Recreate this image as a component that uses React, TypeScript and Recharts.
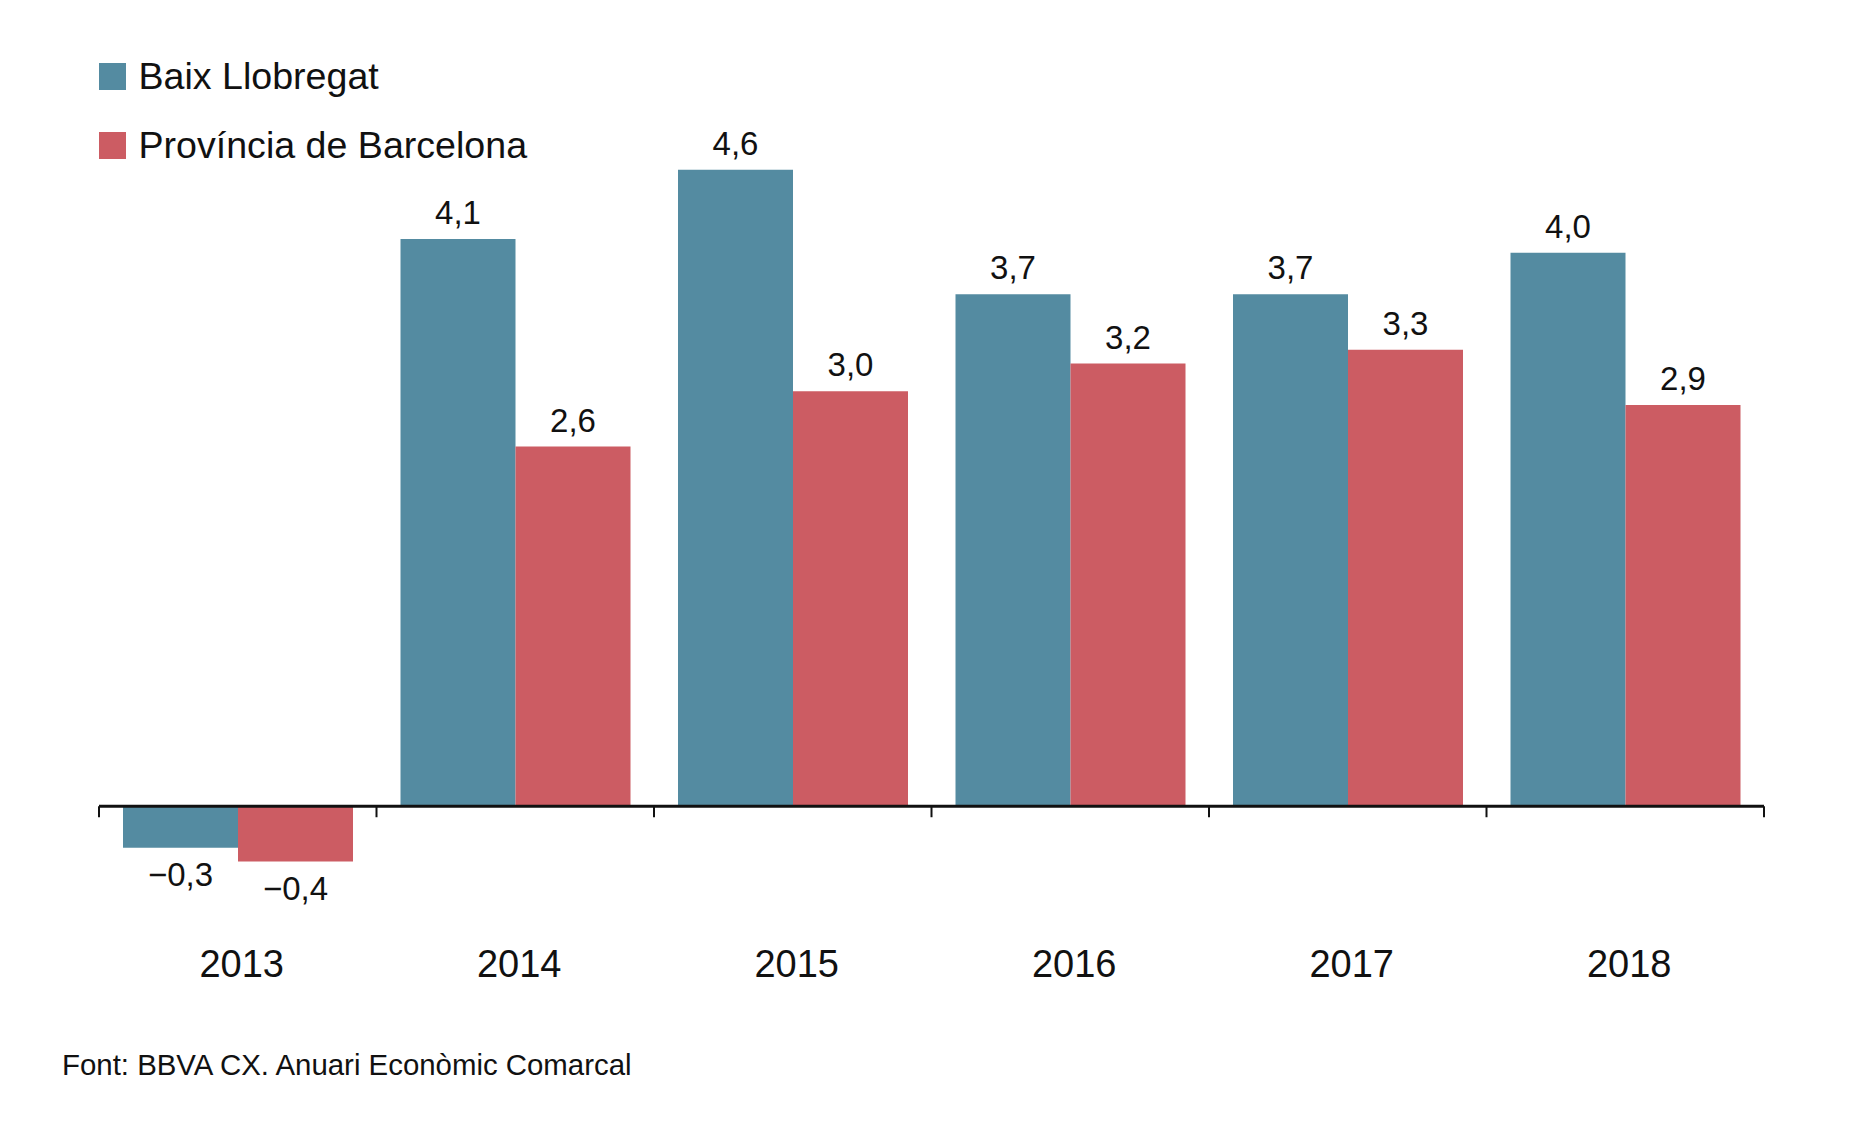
import { BarChart, Bar, XAxis, YAxis, ReferenceLine, LabelList } from 'recharts';

const years = ['2013', '2014', '2015', '2016', '2017', '2018'];
const baixLlobregat = [-0.3, 4.1, 4.6, 3.7, 3.7, 4.0];
const provinciaBarcelona = [-0.4, 2.6, 3.0, 3.2, 3.3, 2.9];

const seriesNames = ['Baix Llobregat', 'Província de Barcelona'];
const seriesColors = ['#548ba1', '#cc5c63'];
const sourceText = 'Font: BBVA CX. Anuari Econòmic Comarcal';

// numeric x positions: each year sits in the middle of its slot
const data = years.map((year, i) => ({
    pos: i + 0.5,
    year,
    baix: baixLlobregat[i],
    prov: provinciaBarcelona[i],
}));
const yearTicks = data.map((d) => d.pos);

// slot edges for the tick marks on the zero line
const edges = [...years.map((_, i) => i), years.length];

const FONT = '"Liberation Sans", Arial, Helvetica, sans-serif';

const formatValue = (v: number) =>
    (v < 0 ? '\u2212' : '') + Math.abs(v).toFixed(1).replace('.', ',');

export default function App() {
    return (
        <div style={{ position: 'absolute', left: 0, top: 0, width: 1862, height: 1134, background: '#fff', fontFamily: FONT }}>
            <BarChart
                width={1862}
                height={1134}
                data={data}
                barGap={0}
                barSize={115}
                margin={{ top: 114.5, right: 98, left: 99, bottom: 149.5 }}
            >
                <XAxis
                    dataKey="pos"
                    type="number"
                    domain={[0, years.length]}
                    allowDataOverflow
                    ticks={yearTicks}
                    tickFormatter={(v: number) => years[Math.floor(v)]}
                    height={40}
                    axisLine={false}
                    tickLine={false}
                    tickSize={0}
                    tickMargin={6}
                    tick={{ fontSize: 38, fill: '#111', fontFamily: FONT, dx: 4 }}
                />
                <YAxis domain={[-1, 5]} hide />
                <Bar dataKey="baix" name={seriesNames[0]} fill={seriesColors[0]} isAnimationActive={false}>
                    <LabelList
                        dataKey="baix"
                        position="top"
                        offset={15}
                        formatter={(v: number) => formatValue(v)}
                        style={{ fontSize: 33, fill: '#111', fontFamily: FONT }}
                    />
                </Bar>
                <Bar dataKey="prov" name={seriesNames[1]} fill={seriesColors[1]} isAnimationActive={false}>
                    <LabelList
                        dataKey="prov"
                        position="top"
                        offset={15}
                        formatter={(v: number) => formatValue(v)}
                        style={{ fontSize: 33, fill: '#111', fontFamily: FONT }}
                    />
                </Bar>
                <ReferenceLine y={0} stroke="#111" strokeWidth={3} />
                {edges.map((e) => (
                    <ReferenceLine
                        key={e}
                        ifOverflow="visible"
                        segment={[{ x: e, y: 0 }, { x: e, y: -0.08 }]}
                        stroke="#111"
                        strokeWidth={2}
                    />
                ))}
            </BarChart>

            {seriesNames.map((name, i) => (
                <div
                    key={name}
                    style={{
                        position: 'absolute',
                        left: 99,
                        top: 57.5 + i * 69,
                        height: 38,
                        display: 'flex',
                        alignItems: 'flex-start',
                    }}
                >
                    <div style={{ width: 27, height: 27, marginTop: 5.2, background: seriesColors[i] }} />
                    <span style={{ marginLeft: 12.5, fontSize: 37.6, lineHeight: 1, color: '#111' }}>{name}</span>
                </div>
            ))}

            <div style={{ position: 'absolute', left: 62, top: 1050, fontSize: 29.4, lineHeight: 1, color: '#111' }}>
                {sourceText}
            </div>
        </div>
    );
}
